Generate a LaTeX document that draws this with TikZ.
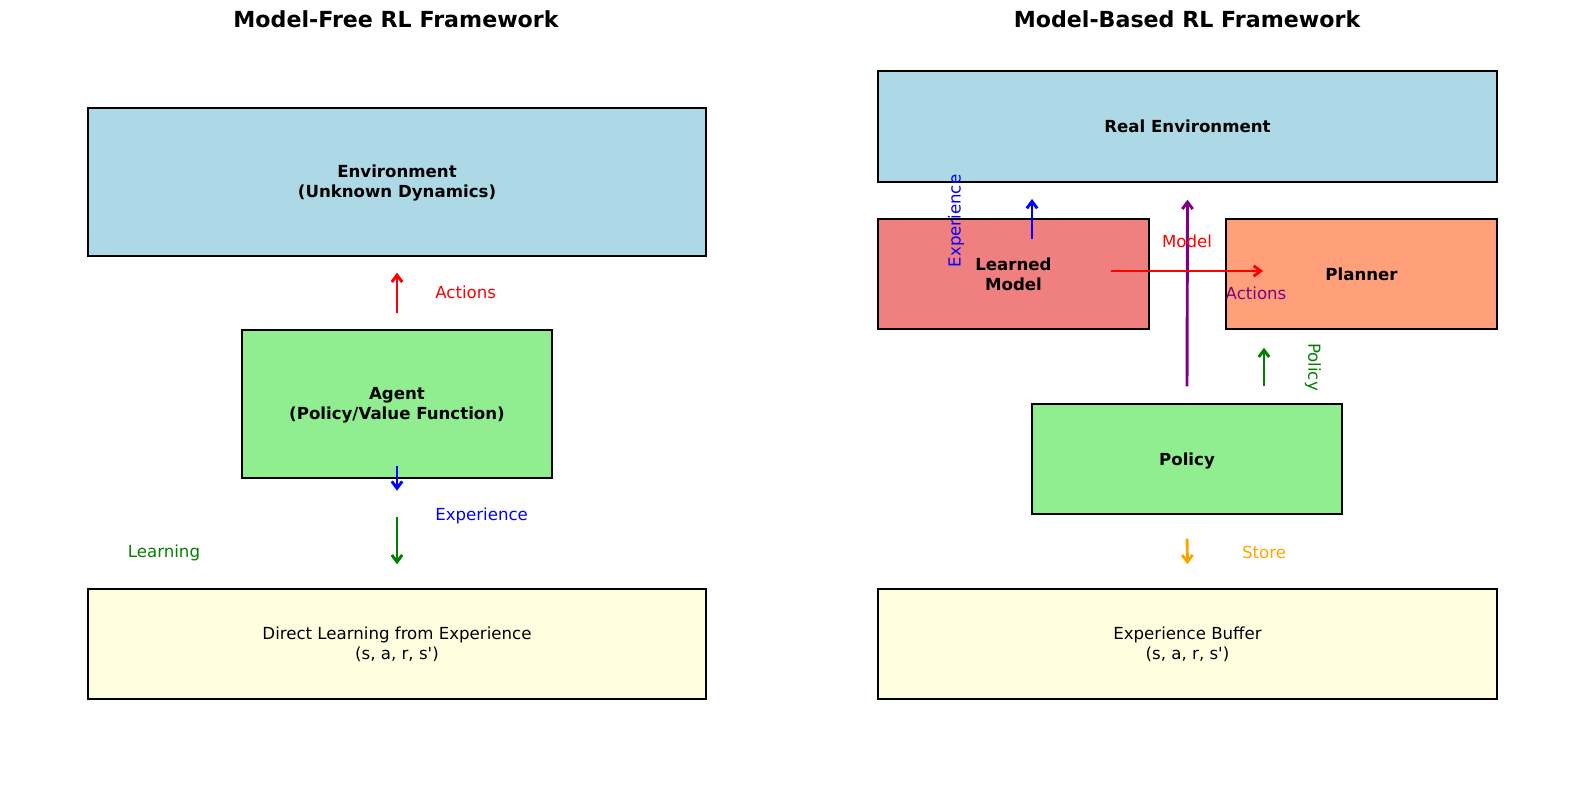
\documentclass[tikz,border=0pt]{standalone}
\usepackage{fontspec}
\setmainfont{DejaVu Sans}
\usetikzlibrary{arrows.meta, positioning}

\newlength\px
\setlength\px{0.01in}

\definecolor{envblue}{HTML}{ADD8E6}
\definecolor{agentgreen}{HTML}{90EE90}
\definecolor{bufferyellow}{HTML}{FFFFE0}
\definecolor{modelcoral}{HTML}{F08080}
\definecolor{plansalmon}{HTML}{FFA07A}
\definecolor{darkgreen}{HTML}{008000}
\definecolor{storeorange}{HTML}{FFA500}
\definecolor{actpurple}{HTML}{800080}

\tikzset{
  box/.style={draw, line width=1pt, inner sep=0pt, align=center,
    font=\fontsize{12}{14.4}\selectfont\bfseries},
  plainbox/.style={box, font=\fontsize{12}{14.4}\selectfont},
  lbl/.style={inner sep=0pt, font=\fontsize{12}{14.4}\selectfont},
  flow/.style={line width=2.1pt, -{Straight Barb[length=5pt,width=7.5pt]}},
  heading/.style={inner sep=0pt, font=\fontsize{16}{19.2}\selectfont\bfseries}
}

\begin{document}
\begin{tikzpicture}[x=1\px, y=-1\px]
  \useasboundingbox (0,0) rectangle (1584,784);

  % model-free side
  \node[heading] (freeTitle) at (396,19) {Model-Free RL Framework};
  \node[box, fill=envblue, minimum width=618\px, minimum height=148\px]
    (env) at (397,182) {\strut Environment\\(Unknown Dynamics)};
  \node[box, fill=agentgreen, minimum width=310\px, minimum height=148\px]
    (agent) at (397,404) {\strut Agent\\(Policy/Value Function)};
  \node[plainbox, fill=bufferyellow, minimum width=618\px, minimum height=110\px]
    (direct) at (397,644) {Direct Learning from Experience\\(s, a, r, s\textquotesingle)};

  \draw[flow, red] ([yshift=16\px]agent.north) -- ([yshift=-16\px]env.south);
  \draw[flow, blue] ([yshift=13\px]agent.south) -- ([yshift=-12\px]agent.south);
  \draw[flow, darkgreen] ([yshift=-38\px]agent.south) -- ([yshift=24\px]direct.north);

  \node[lbl, red, anchor=west] (actLbl) at (435,292) {Actions};
  \node[lbl, blue, anchor=west] (expLbl) at (435,516) {Experience};
  \node[lbl, darkgreen] (learnLbl) at (164,553) {Learning};

  % model-based side
  \node[heading] (basedTitle) at (1187,19) {Model-Based RL Framework};
  \node[box, fill=envblue, minimum width=619\px, minimum height=111\px]
    (realenv) at (1187.5,126.5) {Real Environment};
  \node[box, fill=modelcoral, minimum width=271\px, minimum height=110\px]
    (learned) at (1013.5,274) {\strut Learned\\Model};
  \node[box, fill=plansalmon, minimum width=271\px, minimum height=110\px]
    (planner) at (1361.5,274) {Planner};
  \node[box, fill=agentgreen, minimum width=310\px, minimum height=110\px,
    text height=12pt, text depth=3pt]
    (policy) at (1187,459) {Policy};
  \node[plainbox, fill=bufferyellow, minimum width=619\px, minimum height=110\px]
    (buffer) at (1187.5,644) {Experience Buffer\\(s, a, r, s\textquotesingle)};

  \coordinate (expFrom) at (1032,239);
  \coordinate (expTo) at (1032,199);
  \coordinate (mdlFrom) at (1111,271);
  \coordinate (mdlTo) at (1263,271);

  \draw[flow, blue] (expFrom) -- (expTo);
  \draw[flow, actpurple] ([yshift=17\px]policy.north) -- ([yshift=-17\px]realenv.south);
  \draw[flow, red] (mdlFrom) -- (mdlTo);
  \draw[flow, darkgreen] ([xshift=77\px, yshift=17\px]policy.north)
    -- ([xshift=-97.5\px, yshift=-18\px]planner.south);
  \draw[flow, storeorange] ([yshift=-24\px]policy.south) -- ([yshift=24\px]buffer.north);

  \node[lbl, blue, rotate=90] (expRot) at (956,221) {Experience};
  \node[lbl, red] (mdlLbl) at (1187,241) {Model};
  \node[lbl, actpurple] (actRot) at (1256,293) {Actions};
  \node[lbl, darkgreen, rotate=-90] (polLbl) at (1313,367) {Policy};
  \node[lbl, storeorange] (storeLbl) at (1264,552) {Store};
\end{tikzpicture}
\end{document}
